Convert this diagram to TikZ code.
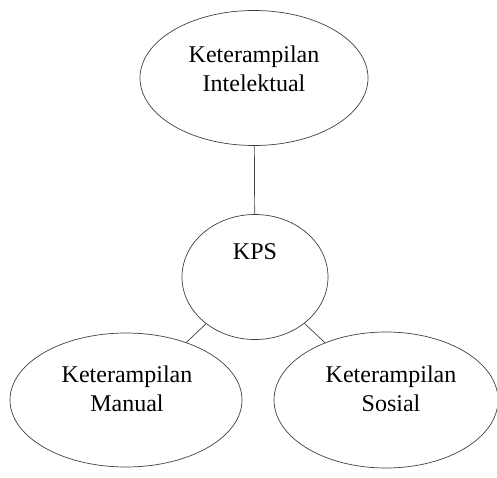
\documentclass[tikz,border=0pt]{standalone}
\usepackage{fontspec}
\setmainfont{Liberation Serif}
\usepackage{tikz}
\usetikzlibrary{shapes}

\begin{document}
\begin{tikzpicture}[x=1pt, y=-1pt,
    bubble/.style={draw=black!75, line width=0.7pt, ellipse, inner sep=0pt},
    txt/.style={inner sep=0pt, align=center, font=\fontsize{24}{29}\selectfont}]
    \useasboundingbox (0,0) rectangle (497,477);

    \node (intel) [bubble, minimum width=228pt, minimum height=135pt] at (254,78) {};
    \node (kps) [bubble, minimum width=146pt, minimum height=125pt] at (255,277) {};
    \node (manual) [bubble, minimum width=232pt, minimum height=134pt] at (126,400) {};
    \node (sosial) [bubble, minimum width=224pt, minimum height=136pt] at (386,400) {};

    \node (intel_txt) [txt] at (254,69) {Keterampilan\\Intelektual};
    \node (kps_txt) [txt] at (255,252) {KPS};
    \node (manual_txt) [txt] at (127,389) {Keterampilan\\Manual};
    \node (sosial_txt) [txt] at (391,389) {Keterampilan\\Sosial};

    \draw[black!75, line width=0.7pt] (intel) -- (kps);
    \draw[black!75, line width=0.7pt] (kps) -- (manual);
    \draw[black!75, line width=0.7pt] (kps) -- (sosial);
\end{tikzpicture}
\end{document}
